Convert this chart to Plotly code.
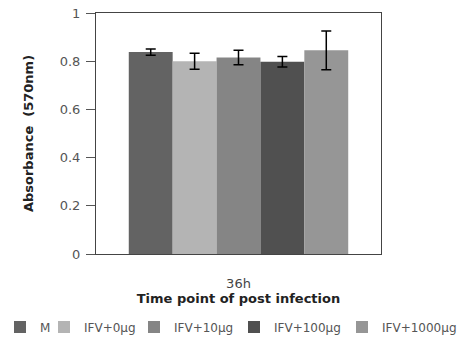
import plotly.graph_objects as go

categories = ["36h"]
groups = ["M", "IFV+0μg", "IFV+10μg", "IFV+100μg", "IFV+1000μg"]
values = [0.838, 0.800, 0.815, 0.798, 0.845]
errors = [0.013, 0.033, 0.030, 0.022, 0.080]
colors = ["#636363", "#b4b4b4", "#858585", "#505050", "#969696"]
legend_x_px = [0, 44, 134, 234, 342]

W, H = 469, 346
FONT = "DejaVu Sans"

fig = go.Figure()
legend_names = ["legend"] + ["legend%d" % (i + 2) for i in range(len(groups) - 1)]
for g, v, e, c, ln in zip(groups, values, errors, colors, legend_names):
    fig.add_trace(go.Bar(
        x=categories, y=[v], name=g, legend=ln,
        marker=dict(color=c, line=dict(width=0)),
        error_y=dict(type="data", array=[e], color="black", thickness=1.5, width=5),
    ))

legends = {}
for ln, lx in zip(legend_names, legend_x_px):
    legends[ln] = dict(
        orientation="h", xref="container", yref="container",
        x=lx / W, xanchor="left", y=1 - 327 / H, yanchor="middle",
        font=dict(family=FONT, size=12, color="#555555"), itemwidth=30,
        bgcolor="rgba(0,0,0,0)", borderwidth=0,
    )

fig.update_layout(
    width=W, height=H,
    margin=dict(l=96, r=88, t=13, b=92, autoexpand=False),
    barmode="group", bargap=0.23, bargroupgap=0,
    plot_bgcolor="white", paper_bgcolor="white",
    font=dict(family=FONT, size=12, color="#333333"),
    showlegend=True,
    xaxis=dict(
        automargin=True,
        showline=True, linecolor="#444444", mirror=True, linewidth=1,
        ticks="", tickfont=dict(family=FONT, size=13, color="#444444"), ticklabelstandoff=17,
        title=dict(text="<b>Time point of post infection</b>",
                   font=dict(family=FONT, size=13, color="#222222"), standoff=2),
    ),
    yaxis=dict(
        range=[0, 1], dtick=0.2, showgrid=False, zeroline=False,
        showline=True, linecolor="#444444", mirror=True, linewidth=1,
        ticks="outside", ticklen=9, tickcolor="#555555", ticklabelstandoff=3,
        tickfont=dict(family=FONT, size=13, color="#555555"),
        tickformat="~g",
        title=dict(text="<b>Absorbance  (570nm)</b>",
                   font=dict(family=FONT, size=13, color="#222222"), standoff=23),
    ),
    **legends,
)

fig.write_html("out.html")
